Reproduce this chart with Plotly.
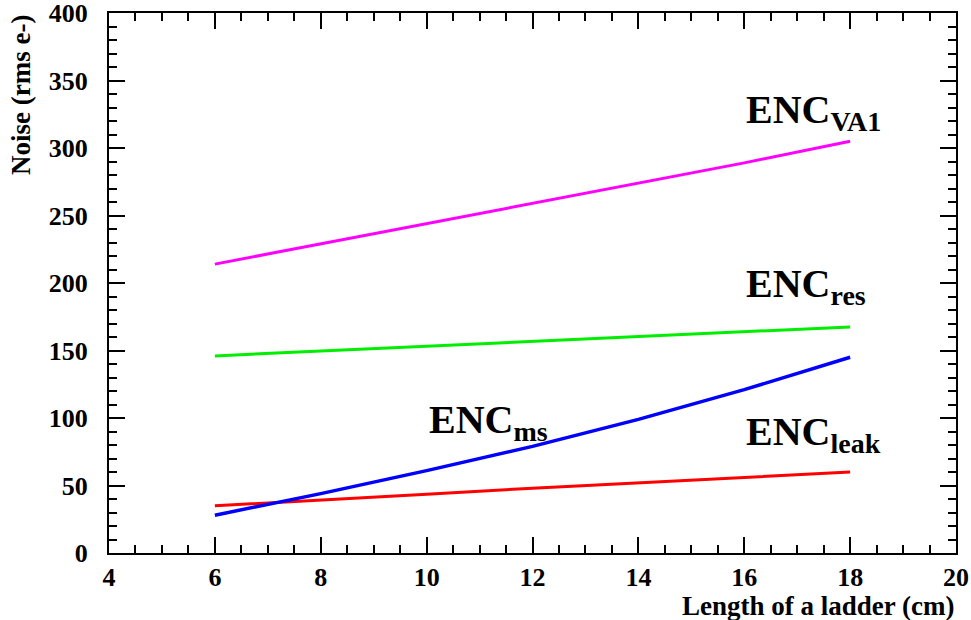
import plotly.graph_objects as go

length_cm = [6, 8, 10, 12, 14, 16, 18]
enc_va1 = [214, 229, 244, 259, 274, 289, 305]
enc_res = [146, 149.5, 153, 157, 160.5, 164, 167.5]
enc_ms = [28, 44, 61, 79, 99, 121, 145]
enc_leak = [35, 39, 43.5, 48, 52, 56, 60]

FONT = "Liberation Serif"

fig = go.Figure()
fig.add_trace(go.Scatter(x=length_cm, y=enc_va1, mode="lines", line=dict(color="#ff00ff", width=3)))
fig.add_trace(go.Scatter(x=length_cm, y=enc_res, mode="lines", line=dict(color="#00ee00", width=3)))
fig.add_trace(go.Scatter(x=length_cm, y=enc_leak, mode="lines", line=dict(color="#ff0000", width=3)))
fig.add_trace(go.Scatter(x=length_cm, y=enc_ms, mode="lines", line=dict(color="#0000ff", width=3.5)))

axis_common = dict(
    showgrid=False, zeroline=False, showline=True, linecolor="black", linewidth=2,
    mirror="ticks", ticks="inside", ticklen=16, tickwidth=1.5, tickcolor="black",
    automargin=False, ticklabeloverflow="allow",
    tickfont=dict(family=FONT, size=26, color="black", weight="bold"),
)

fig.update_xaxes(range=[4, 20], dtick=2, tick0=4,
                 minor=dict(dtick=0.5, ticklen=8, ticks="inside", tickcolor="black", tickwidth=1.5),
                 **axis_common)
fig.update_yaxes(range=[0, 400], dtick=50, tick0=0, ticklabelstandoff=14,
                 minor=dict(dtick=10, ticklen=8, ticks="inside", tickcolor="black", tickwidth=1.5),
                 **axis_common)

ann_font = dict(family=FONT, size=40, color="black", weight="bold")
labels = [
    (16.0, 327, "ENC<sub>VA1</sub>"),
    (16.0, 198, "ENC<sub>res</sub>"),
    (16.0, 88, "ENC<sub>leak</sub>"),
    (10.0, 97, "ENC<sub>ms</sub>"),
]
for x, y, t in labels:
    fig.add_annotation(x=x, y=y, text=t, showarrow=False, xanchor="left", yanchor="middle",
                       font=ann_font, xref="x", yref="y")

fig.add_annotation(text="Length of a ladder (cm)", xref="paper", yref="paper", x=1.0, y=-0.098,
                   xanchor="right", yanchor="middle", showarrow=False,
                   font=dict(family=FONT, size=27, color="black", weight="bold"))
fig.add_annotation(text="Noise (rms e-)", xref="paper", yref="paper", x=-0.104, y=1.0,
                   xanchor="center", yanchor="top", textangle=-90, showarrow=False,
                   font=dict(family=FONT, size=27, color="black", weight="bold"))

fig.update_layout(
    width=971, height=620, showlegend=False,
    plot_bgcolor="white", paper_bgcolor="white",
    margin=dict(l=109, r=15, t=13, b=67),
)
fig.write_html("out.html", config={"displayModeBar": False},
               post_script="document.body.style.margin='0';document.body.style.overflow='hidden';")
